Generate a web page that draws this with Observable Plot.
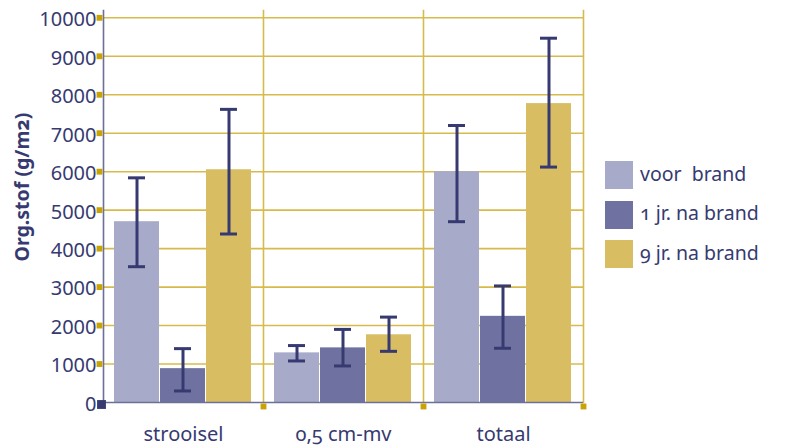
<!DOCTYPE html>
<html>
<head>
<meta charset="utf-8">
<script src="https://cdn.jsdelivr.net/npm/d3@7"></script>
<script src="https://cdn.jsdelivr.net/npm/@observablehq/plot@0.6"></script>
<style>
  body { margin: 0; background: #fff; font-family: "Noto Sans", sans-serif; color: #363a70; }
  #wrap { position: relative; width: 785px; height: 446px; }
  #chart { position: absolute; left: 0; top: 0; }
  #ylabel { position: absolute; left: 22px; top: 187px; transform: translate(-50%, -50%) rotate(-90deg); white-space: nowrap; font-weight: bold; font-size: 19.5px; line-height: 1; font-variant-numeric: oldstyle-nums; }
  #legend { position: absolute; left: 605px; top: 161px; }
  .item { display: flex; align-items: center; height: 28px; margin-bottom: 11.5px; font-size: 19.5px; white-space: pre; font-variant-numeric: oldstyle-nums; }
  .item span { position: relative; top: -2px; }
  .sw { width: 28px; height: 28px; margin-right: 7px; flex: none; }
</style>
</head>
<body>
<div id="wrap"><div id="chart"></div><div id="ylabel"></div><div id="legend"></div></div>
<script>
// Organische stof per laag, gemiddelde met spreiding
const categories = ["strooisel", "0,5 cm-mv", "totaal"];
const series = ["voor  brand", "1 jr. na brand", "9 jr. na brand"];

const voorMean = [4700, 1290, 6000];
const voorLow  = [3530, 1080, 4700];
const voorHigh = [5840, 1480, 7200];

const jr1Mean = [880, 1420, 2240];
const jr1Low  = [300, 950, 1410];
const jr1High = [1400, 1900, 3030];

const jr9Mean = [6050, 1760, 7770];
const jr9Low  = [4380, 1330, 6120];
const jr9High = [7620, 2220, 9470];

const yTicks = [0, 1000, 2000, 3000, 4000, 5000, 6000, 7000, 8000, 9000, 10000];
const yLabel = "Org.stof (g/m2)";

const colors = ["#a7aac8", "#6f72a0", "#d8bd63"];
const navy = "#363a70";
const slate = "#6c6f98";
const gold = "#d6bb4c";
const goldDark = "#c9a206";

const means = [voorMean, jr1Mean, jr9Mean];
const lows = [voorLow, jr1Low, jr9Low];
const highs = [voorHigh, jr1High, jr9High];

const rows = [];
categories.forEach((cat, i) => {
  series.forEach((serie, j) => {
    rows.push({cat, serie, mean: means[j][i], low: lows[j][i], high: highs[j][i]});
  });
});

const chart = Plot.plot({
  width: 600,
  height: 446,
  marginLeft: 103,
  marginRight: 17,
  marginTop: 10,
  marginBottom: 44,
  style: {fontFamily: "Noto Sans", fontSize: "20px", color: navy, background: "white", fontVariantNumeric: "oldstyle-nums"},
  fx: {domain: categories, padding: 0, axis: null, label: null},
  x: {domain: series, paddingInner: 0.02, paddingOuter: 0.23, axis: null},
  y: {domain: [0, 10190], axis: null},
  color: {domain: series, range: colors},
  marks: [
    Plot.ruleY(yTicks.filter(d => d > 0), {stroke: gold, strokeWidth: 1.6}),
    Plot.frame({anchor: "right", stroke: gold, strokeWidth: 1.6}),
    Plot.barY(rows, {fx: "cat", x: "serie", y: "mean", fill: "serie"}),
    Plot.frame({anchor: "left", stroke: slate, strokeWidth: 1.6, facetAnchor: "left"}),
    Plot.ruleY([0], {stroke: slate, strokeWidth: 1.6}),
    Plot.ruleX(rows, {fx: "cat", x: "serie", y1: "low", y2: "high", stroke: navy, strokeWidth: 3}),
    Plot.tickY(rows, {fx: "cat", x: "serie", y: "low", insetLeft: 14, insetRight: 14, stroke: navy, strokeWidth: 3}),
    Plot.tickY(rows, {fx: "cat", x: "serie", y: "high", insetLeft: 14, insetRight: 14, stroke: navy, strokeWidth: 3}),
    Plot.dot(yTicks.filter(d => d > 0), {y: d => d, frameAnchor: "left", dx: -4, symbol: "square", r: 3.3, fill: goldDark, facetAnchor: "left"}),
    Plot.dot([0], {frameAnchor: "bottom-right", dy: 4, symbol: "square", r: 3.3, fill: goldDark}),
    Plot.dot([0], {frameAnchor: "bottom-left", dx: -2, dy: 2, symbol: "square", r: 5, fill: navy, facetAnchor: "left"}),
    Plot.axisY(yTicks, {anchor: "left", tickSize: 0, tickPadding: 7, tickFormat: d3.format("d"), label: null, fill: navy, dy: 2, fontSize: 20, style: {letterSpacing: "2px"}}),
    Plot.axisFx({anchor: "bottom", tickSize: 0, tickPadding: 24.5, label: null, fontSize: 20, fill: navy})
  ]
});
document.getElementById("chart").appendChild(chart);
document.getElementById("ylabel").textContent = yLabel;

const legend = document.getElementById("legend");
series.forEach((s, i) => {
  const item = document.createElement("div");
  item.className = "item";
  const sw = document.createElement("div");
  sw.className = "sw";
  sw.style.background = colors[i];
  const label = document.createElement("span");
  label.textContent = s;
  item.appendChild(sw);
  item.appendChild(label);
  legend.appendChild(item);
});
</script>
</body>
</html>
